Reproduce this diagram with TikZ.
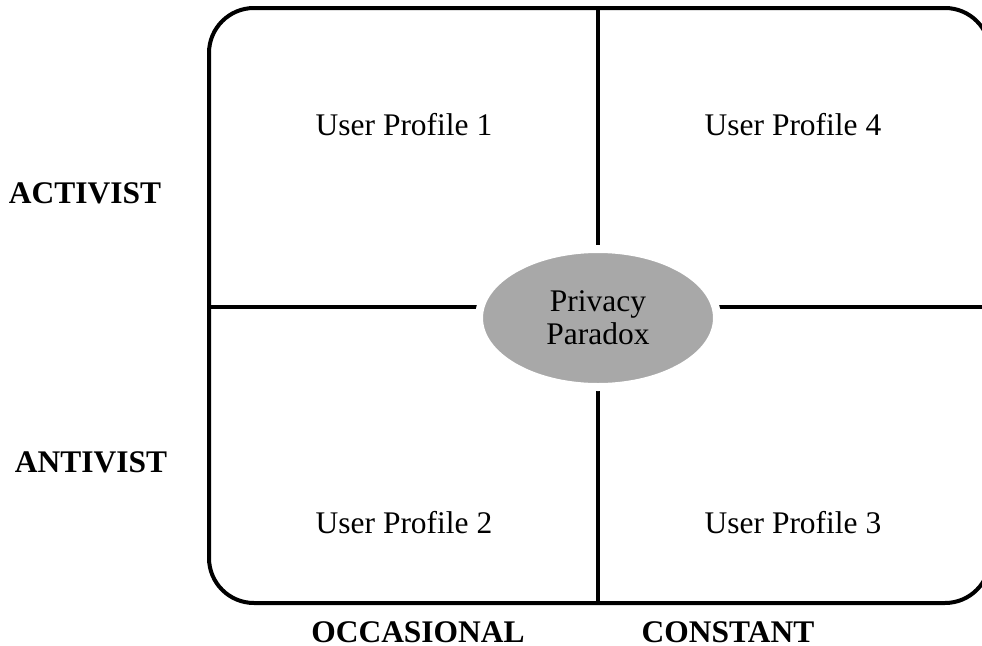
\documentclass[tikz,border=0pt]{standalone}
\usepackage{fontspec}
\setmainfont{Liberation Serif}
\usepackage{tikz}
\usetikzlibrary{shapes.geometric}

\definecolor{paradoxgray}{HTML}{A8A8A8}

\begin{document}
\begin{tikzpicture}[x=0.75pt, y=-0.75pt,
    every node/.style={font=\fontsize{23.6}{25}\selectfont},
    frame/.style={line width=3pt, rounded corners=33.75pt},
    axis/.style={line width=3pt},
    axislabel/.style={font=\fontsize{23.6}{25}\selectfont\bfseries},
    paradox/.style={ellipse, fill=paradoxgray, draw=white, line width=6pt,
      minimum width=178.5pt, minimum height=103.5pt, inner sep=0pt, align=center}]
  \useasboundingbox (0,0) rectangle (982,646);
  \draw[frame] (209,8) rectangle (990,603);
  \coordinate (top) at (598,8);
  \coordinate (bottom) at (598,603);
  \coordinate (left) at (209,307);
  \coordinate (right) at (990,307);
  \draw[axis] (top) -- (bottom);
  \draw[axis] (left) -- (right);
  \node[paradox] (pp) at (598,318) {Privacy\\Paradox};
  \node (up1) at (404,125) {User Profile 1};
  \node (up4) at (793,125) {User Profile 4};
  \node (up2) at (404,523) {User Profile 2};
  \node (up3) at (793,523) {User Profile 3};
  \node[axislabel] (act) at (85,193) {ACTIVIST};
  \node[axislabel] (ant) at (91,462) {ANTIVIST};
  \node[axislabel, anchor=base] (occ) at (418,642) {OCCASIONAL};
  \node[axislabel, anchor=base] (con) at (728,642) {CONSTANT};
\end{tikzpicture}
\end{document}
